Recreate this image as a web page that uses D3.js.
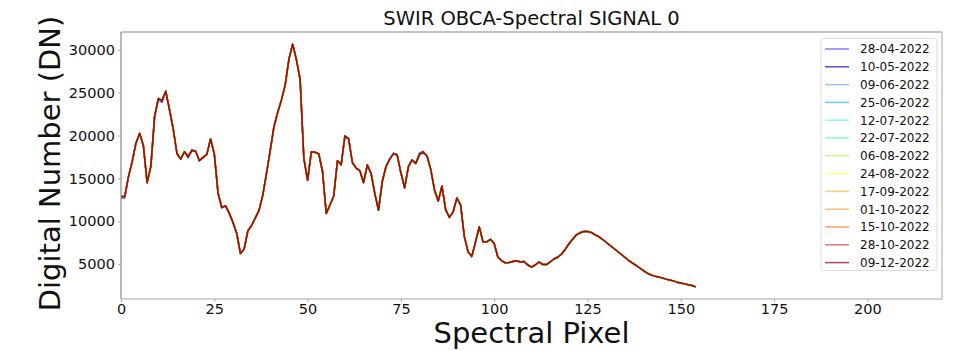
<!DOCTYPE html>
<html>
<head>
<meta charset="utf-8">
<script src="https://cdn.jsdelivr.net/npm/d3@7"></script>
<style>
  html, body { margin: 0; padding: 0; background: #fff; }
  svg { display: block; font-family: "DejaVu Sans", sans-serif; }
</style>
</head>
<body>
<svg id="chart" width="975" height="351"></svg>
<script>
// Acquisition dates, one line each
const dates = [
  "28-04-2022", "10-05-2022", "09-06-2022", "25-06-2022", "12-07-2022",
  "22-07-2022", "06-08-2022", "24-08-2022", "17-09-2022", "01-10-2022",
  "15-10-2022", "28-10-2022", "09-12-2022"
];

// Line colours per date
const lineColors = [
  "rgba(0,0,255,0.5)", "rgba(20,20,200,0.75)", "rgba(100,149,237,0.6)",
  "rgba(0,170,240,0.6)", "rgba(0,255,220,0.5)", "rgba(0,255,127,0.5)",
  "rgba(127,255,0,0.5)", "rgba(255,255,0,0.5)", "rgba(255,165,0,0.55)",
  "rgba(255,140,0,0.55)", "rgba(255,69,0,0.55)", "rgba(220,0,0,0.55)",
  "rgba(128,0,0,0.7)"
];

// Signal per spectral pixel (DN), pixels 0..154 — common to all dates
const signalDN = [
  12900, 12900, 15200, 16950, 19100, 20250, 18800, 14500, 16400, 22200,
  24300, 24100, 25150, 23000, 20750, 17900, 17250, 18100, 17550, 18250,
  18150, 17050, 17450, 17800, 19600, 17850, 13300, 11600, 11800, 10950,
  9850, 8600, 6250, 6750, 8900, 9500, 10400, 11300, 13050, 15600,
  18300, 21050, 22700, 24150, 25900, 28900, 30650, 28850, 26500, 17300,
  14800, 18100, 18050, 17850, 15800, 10900, 11900, 12950, 17050, 16600,
  19950, 19600, 16850, 16200, 15900, 14500, 16550, 15600, 13250, 11300,
  14600, 16350, 17250, 17850, 17750, 15650, 13900, 16350, 17150, 16750,
  17800, 18000, 17600, 16050, 13650, 12350, 14100, 11350, 10450, 11100,
  12700, 11900, 8200, 6450, 5900, 7600, 9350, 7600, 7600, 7900,
  7400, 5800, 5400, 5150, 5200, 5300, 5400, 5250, 5300, 4900,
  4650, 4900, 5250, 4950, 4950, 5250, 5600, 5800, 6150, 6700,
  7350, 7900, 8400, 8650, 8800, 8800, 8700, 8450, 8200, 7900,
  7550, 7200, 6850, 6500, 6150, 5800, 5450, 5150, 4850, 4550,
  4250, 3950, 3750, 3600, 3500, 3400, 3250, 3150, 3050, 2900,
  2800, 2700, 2600, 2500, 2350
];

// Pixels where the two earliest acquisitions read differently: [pixel, DN]
const earlyDiffs = [
  [0, 12750], [1, 12750], [10, 24200], [11, 23900], [18, 17400],
  [19, 18350], [73, 17950], [80, 17950], [81, 18150]
];

const xTicks = [0, 25, 50, 75, 100, 125, 150, 175, 200];
const yTicks = [5000, 10000, 15000, 20000, 25000, 30000];

// Build each date's series
const series = dates.map((d, k) => {
  const vals = signalDN.slice();
  if (k < 2) earlyDiffs.forEach(([p, v]) => { vals[p] = v; });
  return { date: d, color: lineColors[k], values: vals.map((v, i) => [i, v]) };
});

const svg = d3.select("#chart");
const plot = { left: 121, right: 942, top: 32, bottom: 299 };

const x = d3.scaleLinear().domain([0, 220]).range([plot.left, plot.right]);
const all = series.flatMap(s => s.values.map(p => p[1]));
const [lo, hi] = d3.extent(all);
const pad = (hi - lo) * 0.05;
const y = d3.scaleLinear().domain([lo - pad, hi + pad]).range([plot.bottom, plot.top]);

// Lines
const line = d3.line().x(d => x(d[0])).y(d => y(d[1]));
svg.append("g").selectAll("path").data(series).join("path")
  .attr("d", s => line(s.values))
  .attr("fill", "none")
  .attr("stroke", s => s.color)
  .attr("stroke-width", 1.5)
  .attr("stroke-linejoin", "round");

// Frame
const frame = svg.append("g");
frame.append("line").attr("x1", plot.left).attr("x2", plot.right).attr("y1", plot.top).attr("y2", plot.top)
  .attr("stroke", "#888").attr("stroke-width", 1.2);
frame.append("line").attr("x1", plot.left).attr("x2", plot.left).attr("y1", plot.top).attr("y2", plot.bottom)
  .attr("stroke", "#888").attr("stroke-width", 1.2);
frame.append("line").attr("x1", plot.left).attr("x2", plot.right).attr("y1", plot.bottom).attr("y2", plot.bottom)
  .attr("stroke", "#c4c4c4").attr("stroke-width", 1.5);
frame.append("line").attr("x1", plot.right).attr("x2", plot.right).attr("y1", plot.top).attr("y2", plot.bottom)
  .attr("stroke", "#c4c4c4").attr("stroke-width", 1.5);

// Axes
const xAxis = svg.append("g").attr("transform", `translate(0,${plot.bottom})`)
  .call(d3.axisBottom(x).tickValues(xTicks).tickSize(3).tickPadding(2));
const yAxis = svg.append("g").attr("transform", `translate(${plot.left},0)`)
  .call(d3.axisLeft(y).tickValues(yTicks).tickSize(3).tickPadding(3).tickFormat(d3.format("d")));
[xAxis, yAxis].forEach(a => {
  a.select(".domain").remove();
  a.selectAll(".tick line").attr("stroke", "#aaa");
  a.selectAll(".tick text").attr("fill", "#111").style("font-size", "14.5px")
    .style("font-family", "DejaVu Sans, sans-serif");
});

// Title and axis labels
svg.append("text").attr("x", (plot.left + plot.right) / 2).attr("y", 25)
  .attr("text-anchor", "middle").style("font-size", "19.5px").attr("fill", "#111")
  .text("SWIR OBCA-Spectral SIGNAL 0");
svg.append("text").attr("x", (plot.left + plot.right) / 2).attr("y", 343)
  .attr("text-anchor", "middle").style("font-size", "29px").attr("fill", "#111")
  .text("Spectral Pixel");
svg.append("text")
  .attr("transform", `translate(60,${(plot.top + plot.bottom) / 2 - 2}) rotate(-90)`)
  .attr("text-anchor", "middle").style("font-size", "29px").attr("fill", "#111")
  .text("Digital Number (DN)");

// Legend
const legend = svg.append("g");
legend.append("rect").attr("x", 821).attr("y", 38.5).attr("width", 116).attr("height", 232)
  .attr("rx", 2.5).attr("fill", "#fff").attr("stroke", "#ddd").attr("stroke-width", 1);
const items = legend.selectAll("g.item").data(series).join("g").attr("class", "item")
  .attr("transform", (s, k) => `translate(0,${49 + k * 17.8})`);
items.append("line").attr("x1", 825).attr("x2", 849).attr("y1", 0).attr("y2", 0)
  .attr("stroke", s => s.color).attr("stroke-width", 1.5);
items.append("text").attr("x", 860).attr("y", 0).attr("dy", "0.36em")
  .style("font-size", "12px").attr("fill", "#111").text(s => s.date);
</script>
</body>
</html>
